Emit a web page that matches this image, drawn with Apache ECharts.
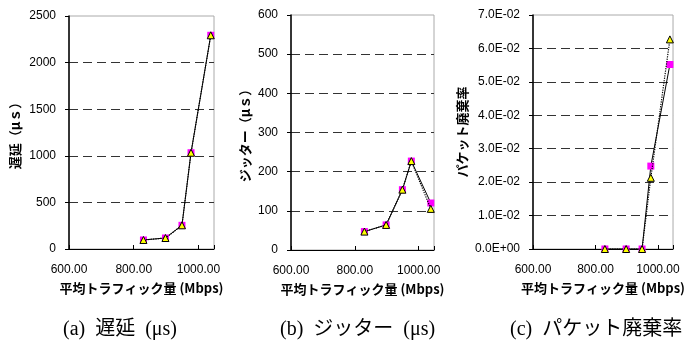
<!DOCTYPE html>
<html>
<head>
<meta charset="utf-8">
<script src="https://cdn.jsdelivr.net/npm/echarts@6/dist/echarts.min.js"></script>
<style>
html, body { margin: 0; padding: 0; background: #fff; }
#main { width: 688px; height: 343px; }
</style>
</head>
<body>
<div id="main"></div>
<script>
// 平均トラフィック量 (Mbps)
var traffic = [830, 898, 949, 977, 1038];

// (a) 遅延
var delaySq = [97, 118, 254, 1033, 2293];
var delayTri = [97, 118, 254, 1033, 2293];
// (b) ジッター
var jitterSq = [47, 64, 154, 227, 120];
var jitterTri = [47, 64, 154, 227, 105];
// (c) パケット廃棄率
var lossSq = [0, 0, 0, 0.0248, 0.0552];
var lossTri = [0, 0, 0, 0.0213, 0.0627];

var captions = ['(a)  遅延  (μs)', '(b)  ジッター  (μs)', '(c)  パケット廃棄率'];
var yNames = ['遅延（μｓ）', 'ジッター（μｓ）', 'パケット廃棄率'];

var font = '"Liberation Sans", Arial, "Noto Sans CJK JP", sans-serif';
var nameFont = '"Noto Sans CJK JP", "Liberation Sans", sans-serif';
var capFont = '20px "Liberation Serif", "Noto Sans CJK JP", serif';

function pairs(xs, ys) {
    var out = [];
    for (var i = 0; i < xs.length; i++) {
        out.push([xs[i], ys[i]]);
    }
    return out;
}

function expLabel(v) {
    var s = Number(v).toExponential(1).split('e');
    var e = parseInt(s[1], 10);
    var sign = e < 0 ? '-' : '+';
    e = Math.abs(e);
    return s[0] + 'E' + sign + (e < 10 ? '0' + e : e);
}

function plainLabel(v) {
    return String(v);
}

var grids = [
    {left: 69, top: 16, width: 145, height: 233},
    {left: 291, top: 15, width: 143, height: 235},
    {left: 533, top: 15, width: 146, height: 234}
];
grids.forEach(function(g) {
    g.show = true;
    g.borderColor = '#aaa';
    g.borderWidth = 1;
    g.backgroundColor = 'transparent';
});

var yMax = [2500, 600, 0.07];
var yStep = [500, 100, 0.01];
var yNameGap = [47, 39, 64];

var xAxes = [], yAxes = [];
for (var i = 0; i < 3; i++) {
    xAxes.push({
        type: 'value',
        gridIndex: i,
        min: 600,
        max: 1048,
        interval: 200,
        name: '平均トラフィック量 (Mbps)',
        nameLocation: 'middle',
        nameGap: 33,
        nameTextStyle: {color: '#000', fontSize: 13, fontWeight: 'bold', fontFamily: nameFont},
        axisLine: {show: true, lineStyle: {color: '#000', width: 1}},
        axisTick: {show: true, inside: true, length: 4, lineStyle: {color: '#000'}},
        axisLabel: {
            color: '#000', fontSize: 12, fontFamily: font, margin: 15,
            showMaxLabel: true,
            formatter: function(v) { return v % 200 === 0 ? v.toFixed(2) : ''; }
        },
        splitLine: {show: false}
    });
    yAxes.push({
        type: 'value',
        gridIndex: i,
        min: 0,
        max: yMax[i],
        interval: yStep[i],
        name: yNames[i],
        nameLocation: 'middle',
        nameRotate: 90,
        nameGap: yNameGap[i],
        nameTextStyle: {color: '#000', fontSize: 13, fontWeight: 'bold', fontFamily: nameFont},
        axisLine: {show: true, lineStyle: {color: '#000', width: 1.5}},
        axisTick: {show: true, length: 4, lineStyle: {color: '#000'}},
        axisLabel: {
            color: '#000', fontSize: 12, fontFamily: font, margin: 13,
            formatter: i === 2 ? expLabel : plainLabel
        },
        splitLine: {
            show: true,
            showMinLine: false,
            showMaxLine: false,
            lineStyle: {color: '#333', width: 1, type: [9, 5]}
        }
    });
}

var sqData = [delaySq, jitterSq, lossSq];
var triData = [delayTri, jitterTri, lossTri];
var series = [];
for (var j = 0; j < 3; j++) {
    series.push({
        type: 'line',
        xAxisIndex: j,
        yAxisIndex: j,
        data: pairs(traffic, sqData[j]),
        symbol: 'rect',
        symbolSize: 7,
        itemStyle: {color: '#ff00ff'},
        lineStyle: {color: '#000', width: 1, type: 'solid'},
        animation: false,
        z: 3
    });
    series.push({
        type: 'line',
        xAxisIndex: j,
        yAxisIndex: j,
        data: pairs(traffic, triData[j]),
        symbol: 'triangle',
        symbolSize: 7,
        itemStyle: {color: '#ffff00', borderColor: '#000', borderWidth: 1},
        lineStyle: {color: '#000', width: 1.2, type: 'dotted'},
        animation: false,
        z: 4
    });
}

var chart = echarts.init(document.getElementById('main'));
chart.setOption({
    animation: false,
    backgroundColor: '#fff',
    grid: grids,
    xAxis: xAxes,
    yAxis: yAxes,
    series: series,
    graphic: [
        {type: 'text', left: 63, top: 320, style: {text: captions[0], font: capFont, fill: '#000'}},
        {type: 'text', left: 280, top: 320, style: {text: captions[1], font: capFont, fill: '#000'}},
        {type: 'text', left: 510, top: 320, style: {text: captions[2], font: capFont, fill: '#000'}}
    ]
});
</script>
</body>
</html>
